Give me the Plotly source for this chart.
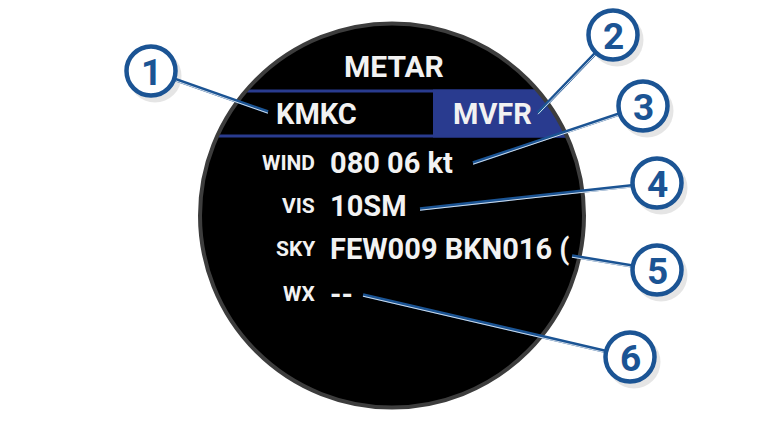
import numpy as np
import plotly.graph_objects as go

# screen content
title = "METAR"
station = "KMKC"
category = "MVFR"
row_labels = ["WIND", "VIS", "SKY", "WX"]
row_values = ["080 06 kt", "10SM", "FEW009 BKN016 (", "--"]
row_y = [162, 205, 248, 293]

# callouts: number, bubble centre, leader end on the screen
callout_nums = ["1", "2", "3", "4", "5", "6"]
callout_x = [151, 613, 643, 657, 657, 630]
callout_y = [71, 35, 106, 183, 270, 357]
leader_x = [268, 538, 473, 420, 572, 363]
leader_y = [112, 113, 163, 209, 256, 295]

W, H = 764, 429
CX, CY, R = 392, 215.5, 192
BAND_TOP, BAND_BOT, BOX_LEFT = 91, 136, 433
NAVY = "#293b8f"
CALLOUT = "#1b5494"
FONT = "Roboto"


def chord_x(y, r=R):
    return np.sqrt(r ** 2 - (y - CY) ** 2)


def box_path():
    ys = np.linspace(BAND_TOP - 1.5, BAND_BOT + 1.5, 30)
    xs = CX + chord_x(ys, R - 1)
    pts = [(BOX_LEFT, BAND_TOP - 1.5)] + list(zip(xs, ys)) + [(BOX_LEFT, BAND_BOT + 1.5)]
    return "M " + " L ".join(f"{x:.2f},{y:.2f}" for x, y in pts) + " Z"


fig = go.Figure()
fig.add_trace(go.Scatter(x=[0], y=[0], mode="markers", marker=dict(opacity=0), hoverinfo="skip", showlegend=False))

shapes = []
# watch face
shapes.append(dict(type="circle", x0=CX - R, x1=CX + R, y0=CY - R, y1=CY + R,
                   fillcolor="#000000", line=dict(width=0)))
# header band
for yb in (BAND_TOP, BAND_BOT):
    half = chord_x(yb, R - 1)
    shapes.append(dict(type="line", x0=CX - half, x1=CX + half, y0=yb, y1=yb,
                       line=dict(color=NAVY, width=3)))
shapes.append(dict(type="path", path=box_path(), fillcolor=NAVY, line=dict(width=0)))
# bezel ring
shapes.append(dict(type="circle", x0=CX - R, x1=CX + R, y0=CY - R, y1=CY + R,
                   fillcolor="rgba(0,0,0,0)", line=dict(color="#3d3d3d", width=4)))

# callout shadows, leaders, bubbles
CR = 24.5
for cx, cy in zip(callout_x, callout_y):
    shapes.append(dict(type="circle", x0=cx - CR + 2, x1=cx + CR + 6, y0=cy - CR + 3, y1=cy + CR + 7,
                       fillcolor="rgba(0,0,0,0.10)", line=dict(width=0)))
for cx, cy, lx, ly in zip(callout_x, callout_y, leader_x, leader_y):
    shapes.append(dict(type="line", x0=lx, y0=ly, x1=cx, y1=cy, line=dict(color=CALLOUT, width=3.5)))
    shapes.append(dict(type="line", x0=lx, y0=ly + 1.2, x1=cx, y1=cy + 1.2, line=dict(color="white", width=0.8)))
for cx, cy in zip(callout_x, callout_y):
    shapes.append(dict(type="circle", x0=cx - CR, x1=cx + CR, y0=cy - CR, y1=cy + CR,
                       fillcolor="white", line=dict(color=CALLOUT, width=4.5)))

ann = []
for n, cx, cy in zip(callout_nums, callout_x, callout_y):
    ann.append(dict(x=cx, y=cy + 1, text=f"<b>{n}</b>", showarrow=False, xanchor="center", yanchor="middle",
                    font=dict(family=FONT, size=37, color=CALLOUT)))

ann.append(dict(x=CX + 2, y=66, text=f"<b>{title}</b>", showarrow=False, xanchor="center", yanchor="middle",
                font=dict(family=FONT, size=30, color="#f2f2f2")))
ann.append(dict(x=274, y=114, text=f"<b>{station}</b>", showarrow=False, xanchor="left", yanchor="middle",
                font=dict(family=FONT, size=29, color="#f2f2f2")))
ann.append(dict(x=451, y=114, text=f"<b>{category}</b>", showarrow=False, xanchor="left", yanchor="middle",
                font=dict(family=FONT, size=29, color="#f2f2f2")))
for lab, val, ry in zip(row_labels, row_values, row_y):
    ann.append(dict(x=317, y=ry + 1, text=f"<b>{lab}</b>", showarrow=False, xanchor="right", yanchor="middle",
                    font=dict(family=FONT, size=21, color="#f2f2f2")))
    ann.append(dict(x=328, y=ry + 1, text=f"<b>{val}</b>", showarrow=False, xanchor="left", yanchor="middle",
                    font=dict(family=FONT, size=29, color="#f2f2f2")))

fig.update_layout(
    width=W, height=H, margin=dict(l=0, r=0, t=0, b=0),
    paper_bgcolor="white", plot_bgcolor="white",
    xaxis=dict(range=[0, W], visible=False, fixedrange=True),
    yaxis=dict(range=[H, 0], visible=False, fixedrange=True),
    shapes=shapes, annotations=ann, showlegend=False,
)
fig.write_html("out.html", config={"displayModeBar": False},
               post_script="document.body.style.margin='0';document.body.style.overflow='hidden';")
